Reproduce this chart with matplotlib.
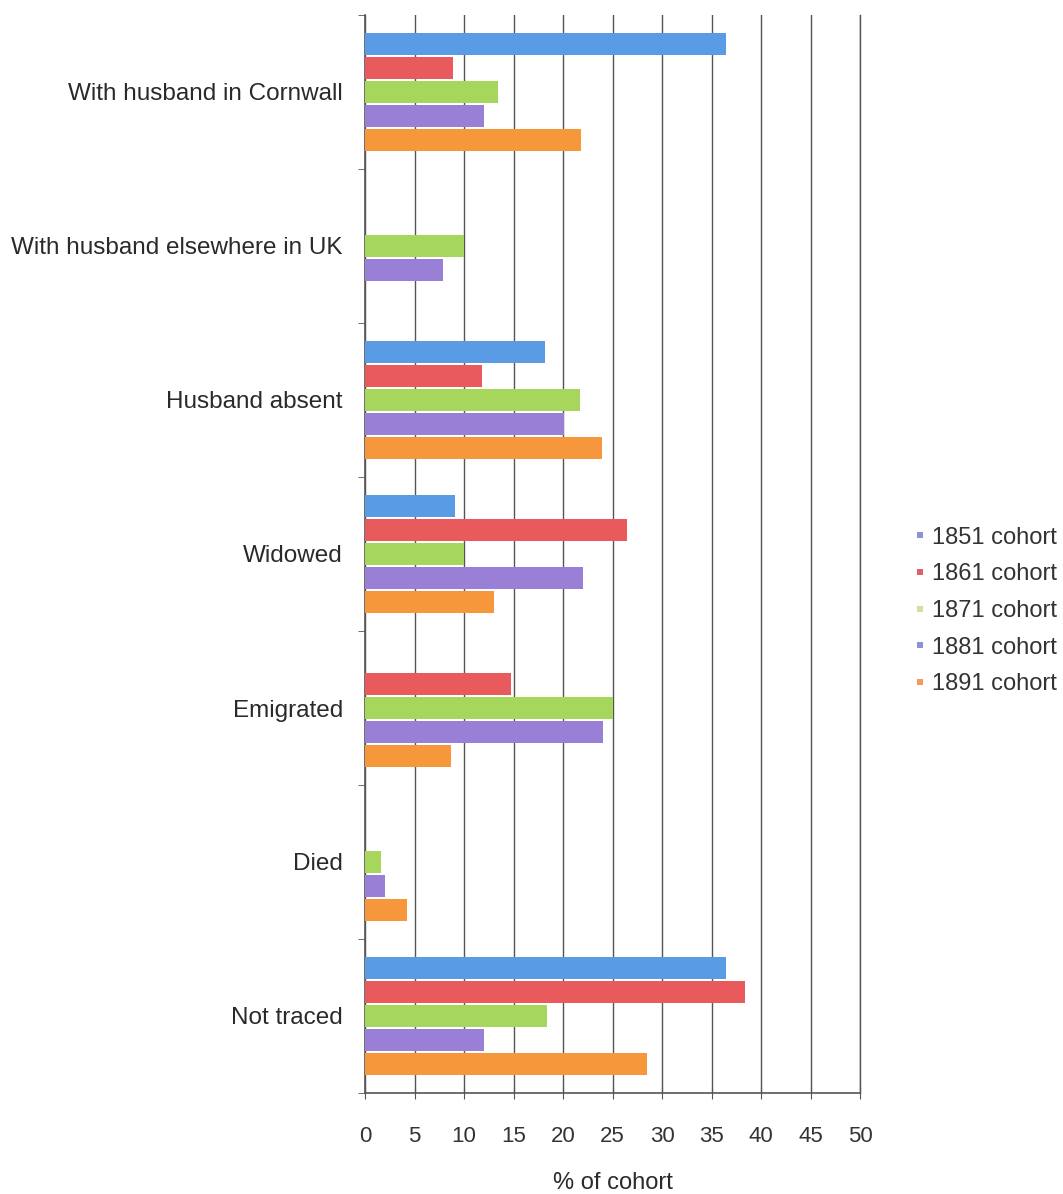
import matplotlib
matplotlib.use("Agg")
import matplotlib.pyplot as plt
from matplotlib.lines import Line2D
import numpy as np

categories = ["With husband in Cornwall", "With husband elsewhere in UK", "Husband absent",
              "Widowed", "Emigrated", "Died", "Not traced"]
series_names = ["1851 cohort", "1861 cohort", "1871 cohort", "1881 cohort", "1891 cohort"]
v1851 = [36.5, 0.0, 18.2, 9.1, 0.0, 0.0, 36.5]
v1861 = [8.9, 0.0, 11.8, 26.5, 14.7, 0.0, 38.4]
v1871 = [13.4, 10.0, 21.7, 10.0, 25.1, 1.6, 18.4]
v1881 = [12.0, 7.9, 20.1, 22.0, 24.0, 2.0, 12.0]
v1891 = [21.8, 0.0, 23.9, 13.0, 8.7, 4.2, 28.5]
x_ticks = [0, 5, 10, 15, 20, 25, 30, 35, 40, 45, 50]

colors = ["#5a9be6", "#e85a5c", "#a6d65c", "#9a7fd6", "#f7973c"]
legend_colors = ["#8f90d6", "#e0606a", "#cfe0a0", "#8f90d6", "#f49a5a"]

plt.rcParams['font.family'] = ['Liberation Sans', 'DejaVu Sans']
fig = plt.figure(figsize=(10.63, 11.94), dpi=100)
ax = fig.add_axes([365/1063, 1 - 1093/1194, (860-365)/1063, (1093-15)/1194])

series = [v1851, v1861, v1871, v1881, v1891]
y = np.arange(len(categories))
step = 0.156
h = 0.143
for i, (vals, c) in enumerate(zip(series, colors)):
    ax.barh(y + (i - 2) * step, vals, height=h, color=c, zorder=3, linewidth=0)

ax.set_xlim(0, 50)
ax.set_ylim(len(categories) - 0.5, -0.5)
ax.set_xticks(x_ticks)
ax.set_xticklabels([str(t) for t in x_ticks], fontsize=16, color="#333333")
ax.set_yticks(y)
ax.set_yticklabels(categories, fontsize=17.5, color="#2a2a2a")
ax.set_yticks(np.arange(len(categories) + 1) - 0.5, minor=True)
ax.tick_params(axis='y', which='major', length=0, pad=16)
ax.tick_params(axis='y', which='minor', length=5, direction='out', color="#555555")
ax.tick_params(axis='x', which='major', length=8, direction='inout', color="#555555", pad=20)
ax.xaxis.grid(True, color="#555555", linewidth=1.0, zorder=0)
ax.axvline(50, color="#555555", linewidth=1.0, zorder=0, clip_on=False)
for s in ['top', 'right']:
    ax.spines[s].set_visible(False)
for s in ['left', 'bottom']:
    ax.spines[s].set_color("#555555")
    ax.spines[s].set_linewidth(1.2)
ax.set_xlabel("% of cohort", fontsize=17, color="#2a2a2a", labelpad=18)

handles = [Line2D([0], [0], marker='s', linestyle='none', markersize=5,
                  markerfacecolor=c, markeredgewidth=0) for c in legend_colors]
fig.legend(handles, series_names, loc='center left', bbox_to_anchor=(914/1063, 1 - 611/1194),
           frameon=False, fontsize=17, handlelength=0.5, handletextpad=0.25,
           labelspacing=0.62, labelcolor="#333333", borderpad=0, borderaxespad=0)

fig.savefig("out.png", dpi=100, facecolor="white")
